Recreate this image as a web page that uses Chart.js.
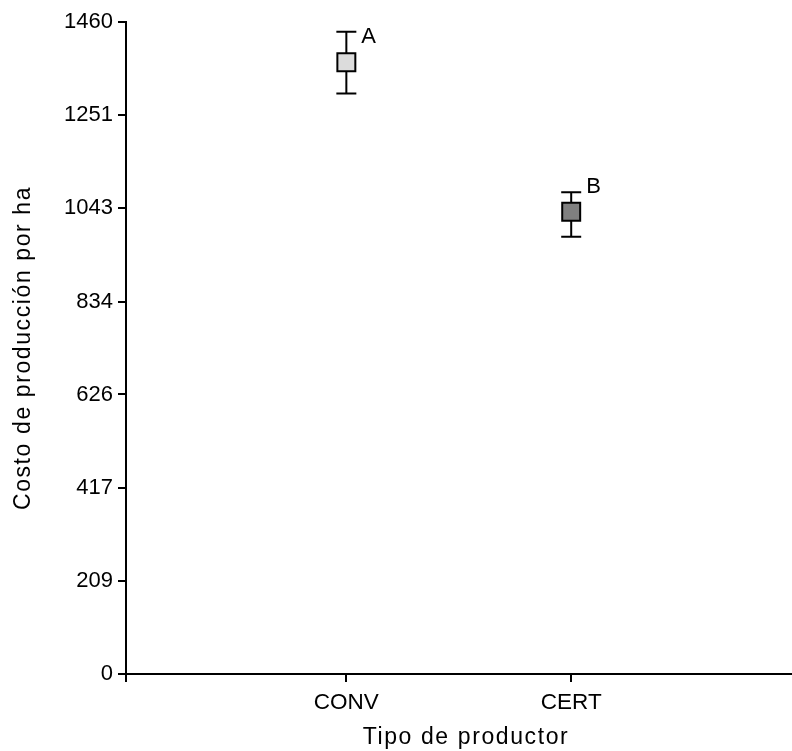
<!DOCTYPE html>
<html>
<head>
<meta charset="utf-8">
<script src="https://cdn.jsdelivr.net/npm/chart.js@4"></script>
<style>
  html, body { margin: 0; padding: 0; background: #fff; }
  #wrap { width: 792px; height: 751px; }
</style>
</head>
<body>
<div id="wrap"><canvas id="chart" width="792" height="751"></canvas></div>
<script>
// Datos del gráfico
const categorias = ['CONV', 'CERT'];
const posiciones = [1, 2];
const medias = [1370, 1035];
const limSup = [1438, 1079];
const limInf = [1300, 979];
const letras = ['A', 'B'];
const rellenos = ['#dcdcdc', '#808080'];
const ticksY = [0, 209, 417, 626, 834, 1043, 1251, 1460];
const tituloX = 'Tipo de productor';
const tituloY = 'Costo de producción por ha';

const FONT = "'Liberation Sans', Arial, sans-serif";

// Barras de error, letras de significancia y títulos de ejes
const extras = {
    id: 'extras',
    beforeDatasetsDraw: (chart) => {
        const { ctx, scales: { x, y } } = chart;
        ctx.save();
        ctx.strokeStyle = '#000';
        ctx.lineWidth = 2;
        posiciones.forEach((p, i) => {
            const px = x.getPixelForValue(p);
            const top = y.getPixelForValue(limSup[i]);
            const bot = y.getPixelForValue(limInf[i]);
            ctx.beginPath();
            ctx.moveTo(px, top); ctx.lineTo(px, bot);
            ctx.moveTo(px - 10, top); ctx.lineTo(px + 10, top);
            ctx.moveTo(px - 10, bot); ctx.lineTo(px + 10, bot);
            ctx.stroke();
        });
        ctx.restore();
    },
    afterDraw: (chart) => {
        const { ctx, chartArea, scales: { x, y } } = chart;
        ctx.save();
        ctx.fillStyle = '#000';
        ctx.font = '22px ' + FONT;
        ctx.textAlign = 'left';
        ctx.textBaseline = 'middle';
        posiciones.forEach((p, i) => {
            const px = x.getPixelForValue(p);
            const py = y.getPixelForValue(medias[i]);
            ctx.fillText(letras[i], px + 15, py - 25);
        });

        // títulos con un poco de espaciado entre letras
        ctx.font = '23px ' + FONT;
        ctx.letterSpacing = '1.6px';
        ctx.textAlign = 'center';
        ctx.textBaseline = 'alphabetic';
        ctx.fillText(tituloX, 466, 744);

        ctx.translate(30, (chartArea.top + chartArea.bottom) / 2);
        ctx.rotate(-Math.PI / 2);
        ctx.fillText(tituloY, 0, 0);
        ctx.restore();
    }
};

new Chart(document.getElementById('chart'), {
    type: 'scatter',
    data: {
        datasets: [{
            data: posiciones.map((p, i) => ({ x: p, y: medias[i] })),
            pointStyle: 'rect',
            pointRadius: 12.7,
            pointHoverRadius: 12.7,
            backgroundColor: rellenos,
            borderColor: '#000',
            borderWidth: 2,
            clip: false
        }]
    },
    options: {
        responsive: false,
        animation: false,
        layout: { autoPadding: false, padding: { top: 22, right: 0, left: 0, bottom: 0 } },
        plugins: {
            legend: { display: false },
            tooltip: { enabled: false }
        },
        scales: {
            x: {
                type: 'linear',
                min: 0.02,
                max: 2.982,
                afterBuildTicks: (s) => { s.ticks = [s.min, 1, 2].map(v => ({ value: v })); },
                afterFit: (s) => { s.height = 77; s.paddingLeft = 0; s.paddingRight = 0; },
                ticks: {
                    autoSkip: false,
                    maxRotation: 0,
                    color: '#000',
                    font: { family: FONT, size: 22.5 },
                    padding: 7,
                    callback: (v) => Number.isInteger(v) ? categorias[v - 1] : ''
                },
                grid: { drawOnChartArea: false, drawTicks: true, tickLength: 8, color: '#000', lineWidth: 2 },
                border: { display: true, color: '#000', width: 2 }
            },
            y: {
                min: 0,
                max: 1460,
                afterBuildTicks: (s) => { s.ticks = ticksY.map(v => ({ value: v })); },
                afterFit: (s) => { s.width = 126; s.paddingTop = 0; s.paddingBottom = 0; },
                ticks: {
                    autoSkip: false,
                    color: '#000',
                    font: { family: FONT, size: 22 },
                    padding: 5,
                    callback: (v) => String(v)
                },
                grid: { drawOnChartArea: false, drawTicks: true, tickLength: 8, color: '#000', lineWidth: 2 },
                border: { display: true, color: '#000', width: 2 }
            }
        }
    },
    plugins: [extras]
});
</script>
</body>
</html>
